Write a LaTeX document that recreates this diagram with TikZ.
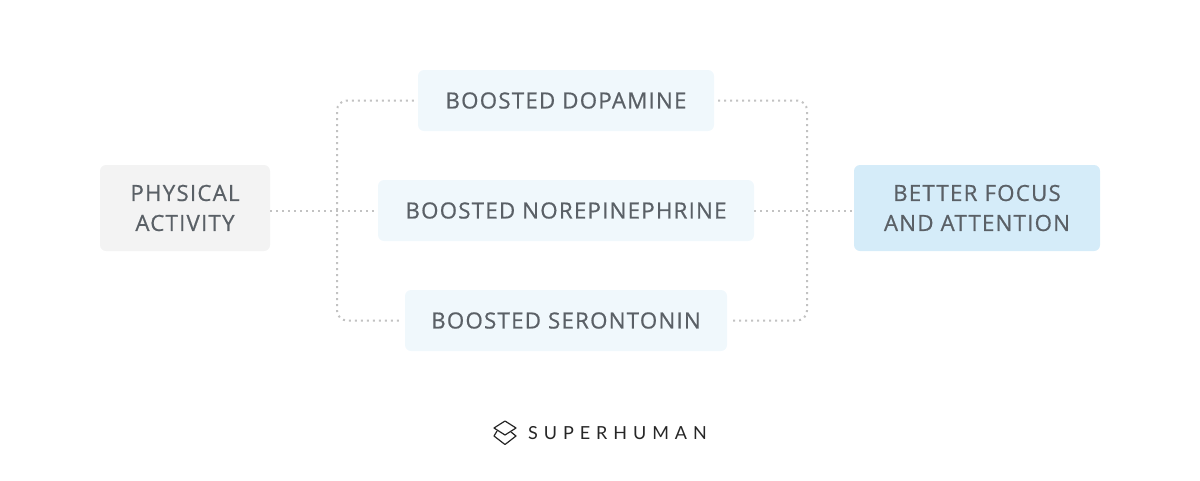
\documentclass[tikz,border=0pt]{standalone}
\usepackage{fontspec}
\usetikzlibrary{calc}
\setmainfont[LetterSpace=5.5,FakeBold=0.6]{Open Sans}
\newfontfamily\logofont[LetterSpace=33]{Lato}
\definecolor{inkgrey}{HTML}{5A6066}
\definecolor{dotgrey}{HTML}{C2C2C2}
\definecolor{greyfill}{HTML}{F3F3F3}
\definecolor{palefill}{HTML}{F0F8FC}
\definecolor{bluefill}{HTML}{D5ECF9}
\tikzset{
	box/.style={rounded corners=6pt,inner sep=0pt,text=inkgrey,align=center,
		font=\fontsize{22.3}{30}\selectfont},
	link/.style={draw=dotgrey,line width=2pt,dash pattern=on 2pt off 4pt,rounded corners=10pt}
}
\begin{document}
\begin{tikzpicture}[x=1pt,y=-1pt]
	\useasboundingbox (0,0) rectangle (1200,480);
	% boxes
	\node[box,fill=greyfill,minimum width=170pt,minimum height=86pt] (physical) at (185,208) {PHYSICAL\\ACTIVITY};
	\node[box,fill=palefill,minimum width=296pt,minimum height=61pt] (dopamine) at (566,100.5) {BOOSTED DOPAMINE};
	\node[box,fill=palefill,minimum width=376pt,minimum height=61pt] (norepinephrine) at (566,210.5) {BOOSTED NOREPINEPHRINE};
	\node[box,fill=palefill,minimum width=322pt,minimum height=61pt] (serontonin) at (566,320.5) {BOOSTED SERONTONIN};
	\node[box,fill=bluefill,minimum width=246pt,minimum height=86pt] (focus) at (977,208) {BETTER FOCUS\\AND ATTENTION};
	% the two rails
	\coordinate (railL) at (337,211);
	\coordinate (railR) at (807,211);
	\draw[link] ($(dopamine.west)+(-4,0)$) -- (railL |- dopamine.west) -- (railL |- serontonin.west) -- ($(serontonin.west)+(-4,0)$);
	\draw[link] ($(dopamine.east)+(4,0)$) -- (railR |- dopamine.east) -- (railR |- serontonin.east) -- ($(serontonin.east)+(4,0)$);
	\draw[link] (physical.east |- norepinephrine.west) -- (norepinephrine.west);
	\draw[link] (norepinephrine.east) -- (focus.west |- norepinephrine.east);
	% logo
	\coordinate (logoT) at (505,421);
	\draw[line width=1.2pt,line join=round,black!85] (logoT) -- (516,428) -- (505,435) -- (494,428) -- cycle;
	\draw[line width=1.2pt,line join=round,black!85] (497,431) -- (494,436) -- (505,444.5) -- (516,436) -- (511,432);
	\node[text=black!85,inner sep=0pt,anchor=west,font=\logofont\fontsize{18}{20}\selectfont] (logotext) at (528,433) {SUPERHUMAN};
\end{tikzpicture}
\end{document}
